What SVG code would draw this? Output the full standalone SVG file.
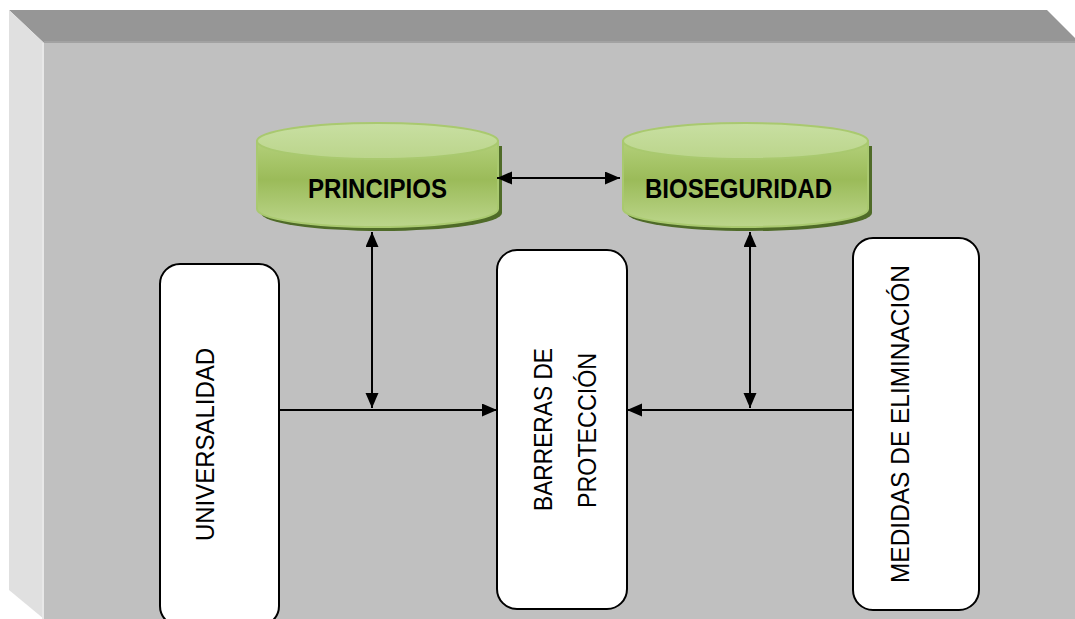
<svg xmlns="http://www.w3.org/2000/svg" width="1075" height="619" viewBox="0 0 1075 619">
  <style>
    .box { fill: #ffffff; stroke: #000000; stroke-width: 2; }
    .vtxt { font-family: "Liberation Sans", Arial, sans-serif; font-size: 26px; fill: #000000; text-anchor: middle; }
    .ctxt { font-family: "Liberation Sans", Arial, sans-serif; font-size: 27px; font-weight: bold; fill: #000000; text-anchor: middle; }
    .conn { stroke: #000000; stroke-width: 2; fill: none; }
    .shadow { fill: #4f6b28; }
    .body { fill: url(#bodyGrad); stroke: #a9c96f; stroke-width: 2; }
    .top { fill: url(#topGrad); stroke: #a9c96f; stroke-width: 2; }
  </style>
  <defs>
    <linearGradient id="bodyGrad" x1="0" y1="0" x2="0" y2="1">
      <stop offset="0" stop-color="#b3d07a"/>
      <stop offset="0.45" stop-color="#9bbb59"/>
      <stop offset="1" stop-color="#bcd68c"/>
    </linearGradient>
    <linearGradient id="topGrad" x1="0" y1="0" x2="0" y2="1">
      <stop offset="0" stop-color="#c8dfa2"/>
      <stop offset="1" stop-color="#bbd58b"/>
    </linearGradient>
    <marker id="arr" markerUnits="userSpaceOnUse" markerWidth="16" markerHeight="14" refX="15" refY="6.5" orient="auto-start-reverse">
      <path d="M0,0 L15,6.5 L0,13 Z" fill="#000000"/>
    </marker>
  </defs>

  <!-- background bevel -->
  <g id="background">
    <rect x="0" y="0" width="1075" height="619" fill="#ffffff"/>
    <rect x="44" y="43" width="1031" height="576" fill="#c0c0c0"/>
    <polygon points="9,10 1047,10 1080,43 44,43" fill="#969696"/>
    <rect x="44" y="41" width="1031" height="2" fill="#a2a2a2"/>
    <polygon points="9,10 44,43 44,619 9,590" fill="#e0e0e0"/>
    <rect x="42" y="43" width="2" height="576" fill="#e8e8e8"/>
  </g>

  <!-- cylinders -->
  <g id="principios">
    <path class="shadow" d="M261,146 L261,213 A120.5,18 0 0 0 502,213 L502,146 Z"/>
    <path class="body" d="M257,141 L257,209 A120.5,18 0 0 0 498,209 L498,141 Z"/>
    <ellipse class="top" cx="377.5" cy="141" rx="120.5" ry="18"/>
    <text class="ctxt" x="377.5" y="198" textLength="139" lengthAdjust="spacingAndGlyphs">PRINCIPIOS</text>
  </g>
  <g id="bioseguridad">
    <path class="shadow" d="M627,146 L627,213 A122.5,18 0 0 0 872,213 L872,146 Z"/>
    <path class="body" d="M623,141 L623,209 A122.5,18 0 0 0 868,209 L868,141 Z"/>
    <ellipse class="top" cx="745.5" cy="141" rx="122.5" ry="18"/>
    <text class="ctxt" x="738.5" y="198" textLength="187" lengthAdjust="spacingAndGlyphs">BIOSEGURIDAD</text>
  </g>

  <!-- boxes -->
  <g id="universalidad">
    <rect class="box" x="160" y="264" width="119" height="362" rx="20" ry="20"/>
    <text class="vtxt" transform="translate(214,444.5) rotate(-90)" x="0" y="0" textLength="193" lengthAdjust="spacingAndGlyphs">UNIVERSALIDAD</text>
  </g>
  <g id="barreras">
    <rect class="box" x="497" y="250" width="130" height="359" rx="20" ry="20"/>
    <text class="vtxt" transform="translate(552,429.5) rotate(-90)" x="0" y="0" textLength="163" lengthAdjust="spacingAndGlyphs">BARRERAS DE</text>
    <text class="vtxt" transform="translate(596,430.5) rotate(-90)" x="0" y="0" textLength="155" lengthAdjust="spacingAndGlyphs">PROTECCIÓN</text>
  </g>
  <g id="medidas">
    <rect class="box" x="853" y="238" width="126" height="372" rx="20" ry="20"/>
    <text class="vtxt" transform="translate(909,424) rotate(-90)" x="0" y="0" textLength="318" lengthAdjust="spacingAndGlyphs">MEDIDAS DE ELIMINACIÓN</text>
  </g>

  <!-- connectors -->
  <g id="connectors">
    <line class="conn" x1="497" y1="178" x2="620" y2="178" marker-start="url(#arr)" marker-end="url(#arr)"/>
    <line class="conn" x1="372" y1="232" x2="372" y2="408" marker-start="url(#arr)" marker-end="url(#arr)"/>
    <line class="conn" x1="750" y1="232" x2="750" y2="408" marker-start="url(#arr)" marker-end="url(#arr)"/>
    <line class="conn" x1="280" y1="410" x2="497" y2="410" marker-end="url(#arr)"/>
    <line class="conn" x1="853" y1="410" x2="627" y2="410" marker-end="url(#arr)"/>
  </g>
</svg>
